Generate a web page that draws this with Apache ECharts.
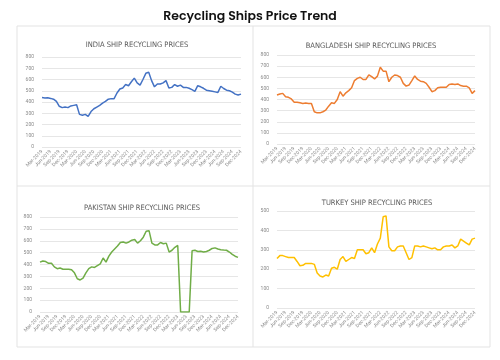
<!DOCTYPE html>
<html><head><meta charset="utf-8">
<script src="https://cdn.jsdelivr.net/npm/echarts@6/dist/echarts.min.js"></script>
<style>html,body{margin:0;padding:0;background:#fff}#c{width:500px;height:360px}</style>
</head><body><div id="c"></div>
<script>
const months = [
"Mar-2019","Apr-2019","May-2019","Jun-2019","Jul-2019","Aug-2019","Sep-2019","Oct-2019","Nov-2019","Dec-2019",
"Jan-2020","Feb-2020","Mar-2020","Apr-2020","May-2020","Jun-2020","Jul-2020","Aug-2020","Sep-2020","Oct-2020","Nov-2020","Dec-2020",
"Jan-2021","Feb-2021","Mar-2021","Apr-2021","May-2021","Jun-2021","Jul-2021","Aug-2021","Sep-2021","Oct-2021","Nov-2021","Dec-2021",
"Jan-2022","Feb-2022","Mar-2022","Apr-2022","May-2022","Jun-2022","Jul-2022","Aug-2022","Sep-2022","Oct-2022","Nov-2022","Dec-2022",
"Jan-2023","Feb-2023","Mar-2023","Apr-2023","May-2023","Jun-2023","Jul-2023","Aug-2023","Sep-2023","Oct-2023","Nov-2023","Dec-2023",
"Jan-2024","Feb-2024","Mar-2024","Apr-2024","May-2024","Jun-2024","Jul-2024","Aug-2024","Sep-2024","Oct-2024","Nov-2024","Dec-2024"];

const india = [440,435,438,432,425,405,362,350,355,350,365,370,375,290,283,290,272,315,340,355,370,390,405,425,430,430,480,515,525,555,545,580,612,570,550,600,655,665,590,535,560,560,570,590,525,530,555,540,550,530,530,522,510,495,545,535,522,505,500,495,490,485,540,520,505,500,488,470,462,470];

const bangladesh = [440,450,455,425,420,405,375,375,370,365,368,365,365,290,280,280,290,305,340,370,365,400,470,430,460,480,505,570,590,600,580,580,622,605,585,610,690,655,655,560,600,620,615,600,545,520,530,570,612,580,565,560,545,510,470,480,505,510,510,510,535,540,535,540,525,520,520,505,455,480];

const pakistan = [420,430,425,410,410,380,365,370,360,360,360,355,330,280,270,285,330,365,380,375,390,405,455,420,470,505,530,555,585,590,580,590,605,610,580,600,630,680,685,580,565,565,585,575,580,505,520,545,560,0,0,0,0,515,520,510,512,505,510,520,535,540,530,525,522,520,505,485,470,460];

const turkey = [255,270,270,265,260,260,260,240,218,220,230,230,230,225,180,165,160,170,165,205,210,200,250,265,240,250,260,255,300,300,300,280,285,310,285,330,360,470,475,315,295,295,315,320,320,285,250,260,320,320,315,320,315,310,305,310,300,300,315,320,320,325,310,320,355,345,335,325,355,360];

const mainTitle = "Recycling Ships Price Trend";
const panelTitles = ["INDIA SHIP RECYCLING PRICES","BANGLADESH SHIP RECYCLING PRICES","PAKISTAN SHIP RECYCLING PRICES","TURKEY SHIP RECYCLING PRICES"];
const seriesData = [india, bangladesh, pakistan, turkey];
const colors = ["#4472C4","#ED7D31","#70AD47","#FFC000"];
const yMax = [800, 800, 800, 500];

const grids = [
  {left: 42, top: 57, width: 199, height: 90},
  {left: 277, top: 55, width: 198, height: 89},
  {left: 40, top: 217, width: 198, height: 95},
  {left: 277, top: 211, width: 198, height: 97}
];
const titlePos = [[132, 36], [366, 37], [137, 199], [372, 194]];

const chart = echarts.init(document.getElementById('c'), null, {renderer: 'canvas'});
const option = {
  backgroundColor: '#fff',
  animation: false,
  title: [{
    text: mainTitle, left: 'center', top: 5,
    textStyle: {fontFamily: 'Poppins, "Open Sans", sans-serif', fontSize: 12.5, fontWeight: 600, color: '#111'}
  }].concat(panelTitles.map((t, i) => ({
    text: t, left: titlePos[i][0], top: titlePos[i][1], textAlign: 'center',
    textStyle: {fontFamily: '"Liberation Sans Narrow", "DejaVu Sans Condensed", sans-serif', fontSize: 7.5, fontWeight: 'normal', color: '#595959'}
  }))),
  graphic: [
    {type: 'rect', shape: {x: 17, y: 26, width: 473, height: 321}, style: {fill: 'none', stroke: '#e3e3e3', lineWidth: 1}, silent: true},
    {type: 'line', shape: {x1: 253, y1: 26, x2: 253, y2: 347}, style: {stroke: '#e3e3e3', lineWidth: 1}, silent: true},
    {type: 'line', shape: {x1: 17, y1: 186, x2: 490, y2: 186}, style: {stroke: '#e3e3e3', lineWidth: 1}, silent: true}
  ],
  grid: grids.map(g => Object.assign({containLabel: false}, g)),
  xAxis: grids.map((g, i) => ({
    type: 'category', gridIndex: i, data: months, boundaryGap: false,
    axisLine: {show: false}, axisTick: {show: false},
    axisLabel: {interval: 2, rotate: 45, fontSize: 5, color: '#8a8a8a', margin: 4, fontFamily: 'Roboto, sans-serif'},
    splitLine: {show: false}
  })),
  yAxis: grids.map((g, i) => ({
    type: 'value', gridIndex: i, min: 0, max: yMax[i], interval: 100,
    axisLine: {show: false}, axisTick: {show: false},
    axisLabel: {fontSize: 5, color: '#8a8a8a', margin: 8, fontFamily: 'Roboto, sans-serif'},
    splitLine: {lineStyle: {color: '#e0e0e0', width: 0.8}}
  })),
  series: seriesData.map((d, i) => ({
    type: 'line', xAxisIndex: i, yAxisIndex: i, data: d, symbol: 'none',
    lineStyle: {color: colors[i], width: 1.5}, itemStyle: {color: colors[i]}
  }))
};
chart.setOption(option);
</script></body></html>
